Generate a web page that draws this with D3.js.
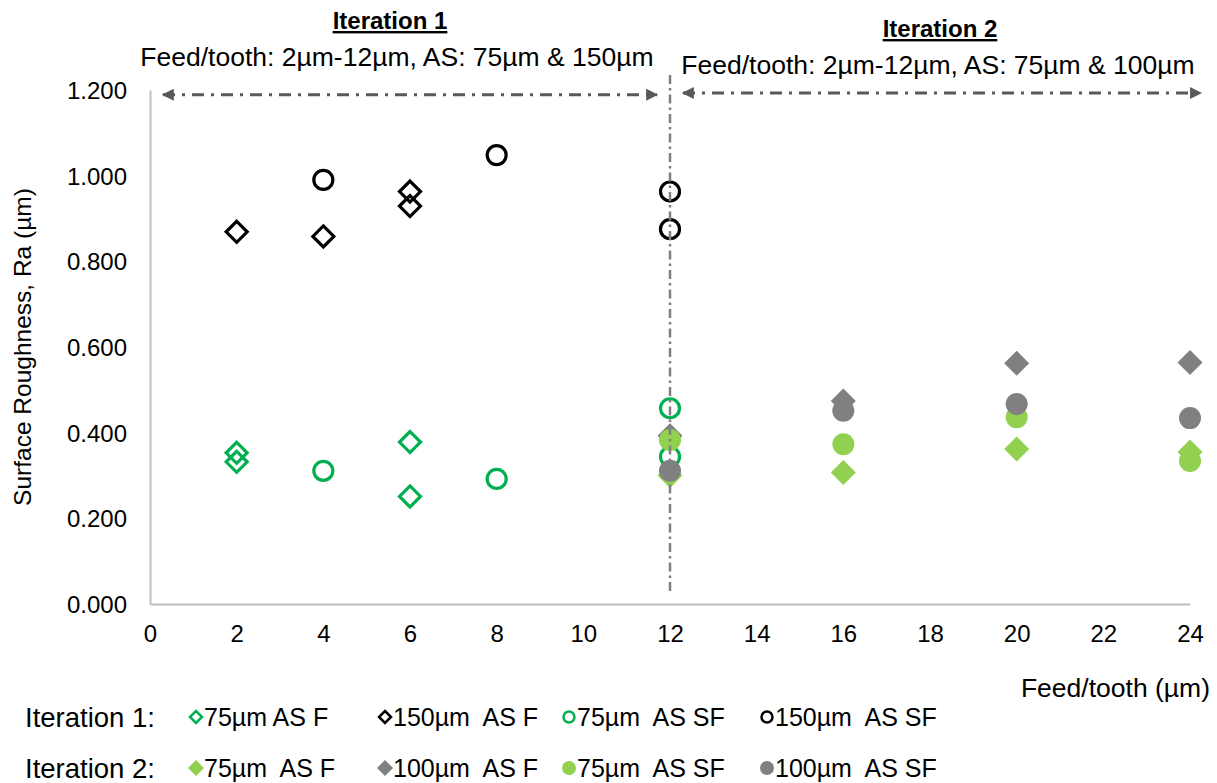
<!DOCTYPE html>
<html>
<head>
<meta charset="utf-8">
<title>Surface Roughness vs Feed/tooth</title>
<script src="https://d3js.org/d3.v7.min.js"></script>
<style>
  body { margin: 0; background: #fff; }
  text { font-family: "Liberation Sans", Arial, sans-serif; white-space: pre; }
</style>
</head>
<body>
<svg width="1217" height="783"></svg>
<script>
// axis ticks
var feedTicks = [0, 2, 4, 6, 8, 10, 12, 14, 16, 18, 20, 22, 24];
var raTicks = [0, 0.2, 0.4, 0.6, 0.8, 1.0, 1.2];

// Iteration 1 (feed/tooth 2-12, AS 75 & 150)
var it1_75F_x = [2, 2, 6, 6];
var it1_75F_y = [0.353, 0.332, 0.378, 0.251];
var it1_150F_x = [2, 4, 6, 6];
var it1_150F_y = [0.869, 0.858, 0.963, 0.929];
var it1_75SF_x = [4, 8, 12, 12];
var it1_75SF_y = [0.311, 0.292, 0.457, 0.344];
var it1_150SF_x = [4, 8, 12, 12];
var it1_150SF_y = [0.990, 1.048, 0.963, 0.875];

// Iteration 2 (AS 75 & 100)
var it2_x = [12, 16, 20, 24];
var it2_75F_y = [0.300, 0.307, 0.362, 0.355];
var it2_100F_y = [0.393, 0.474, 0.562, 0.564];
var it2_75SF_y = [0.383, 0.373, 0.436, 0.334];
var it2_100SF_y = [0.311, 0.451, 0.467, 0.434];

var series = [
  { name: "75\u00b5m AS F",     row: 1, shape: "diamond", fill: "none",    stroke: "#00b050", x: it1_75F_x,   y: it1_75F_y },
  { name: "150\u00b5m  AS F",   row: 1, shape: "diamond", fill: "none",    stroke: "#000000", x: it1_150F_x,  y: it1_150F_y },
  { name: "75\u00b5m  AS SF",   row: 1, shape: "circle",  fill: "none",    stroke: "#00b050", x: it1_75SF_x,  y: it1_75SF_y },
  { name: "150\u00b5m  AS SF",  row: 1, shape: "circle",  fill: "none",    stroke: "#000000", x: it1_150SF_x, y: it1_150SF_y },
  { name: "75\u00b5m  AS F",    row: 2, shape: "diamond", fill: "#92d050", stroke: "none",    x: it2_x, y: it2_75F_y },
  { name: "100\u00b5m  AS F",   row: 2, shape: "diamond", fill: "#808080", stroke: "none",    x: it2_x, y: it2_100F_y },
  { name: "75\u00b5m  AS SF",   row: 2, shape: "circle",  fill: "#92d050", stroke: "none",    x: it2_x, y: it2_75SF_y },
  { name: "100\u00b5m  AS SF",  row: 2, shape: "circle",  fill: "#808080", stroke: "none",    x: it2_x, y: it2_100SF_y }
];

var svg = d3.select("svg");
var x = d3.scaleLinear().domain([0, 24]).range([150, 1190]);
var y = d3.scaleLinear().domain([0, 1.2]).range([604, 90]);

// axes (light grey, no ticks)
var xAxis = svg.append("g").attr("transform", "translate(0,604)")
  .call(d3.axisBottom(x).tickValues(feedTicks).tickSize(0).tickPadding(21).tickFormat(d3.format("d")));
var yAxis = svg.append("g").attr("transform", "translate(150,0)")
  .call(d3.axisLeft(y).tickValues(raTicks).tickSize(0).tickPadding(23).tickFormat(d3.format(".3f")));
[xAxis, yAxis].forEach(function(g) {
  g.select(".domain").attr("stroke", "#bfbfbf").attr("stroke-width", 2);
  g.selectAll("text").attr("font-size", 24).attr("fill", "#000")
    .attr("font-family", "'Liberation Sans', Arial, sans-serif");
});
yAxis.selectAll("text").attr("dy", "0.35em");

svg.append("text").attr("transform", "translate(31," + y(0.6) + ") rotate(-90)")
  .attr("text-anchor", "middle").attr("font-size", 24.5).text("Surface Roughness, Ra (\u00b5m)");
svg.append("text").attr("x", 1210).attr("y", 697).attr("text-anchor", "end")
  .attr("font-size", 26.5).text("Feed/tooth (\u00b5m)");

// markers
function drawMarker(g, s, cx, cy, big) {
  var filled = s.fill !== "none";
  if (s.shape === "circle") {
    g.append("circle").attr("cx", cx).attr("cy", cy)
      .attr("r", big ? (filled ? 11 : 9.5) : (filled ? 7 : 5.5))
      .attr("fill", s.fill).attr("stroke", s.stroke).attr("stroke-width", big ? 3.2 : 2.5);
  } else {
    var h = big ? (filled ? 12.5 : 10.5) : (filled ? 8 : 6);
    g.append("path").attr("d", "M" + cx + "," + (cy - h) + "L" + (cx + h) + "," + cy + "L" + cx + "," + (cy + h) + "L" + (cx - h) + "," + cy + "Z")
      .attr("fill", s.fill).attr("stroke", s.stroke).attr("stroke-width", big ? 3.2 : 2.5)
      .attr("stroke-linejoin", "miter");
  }
}

var marks = svg.append("g");
series.forEach(function(s) {
  s.x.forEach(function(xv, i) {
    drawMarker(marks, s, x(xv), y(s.y[i]), true);
  });
});

// separator line at feed 12
svg.append("line").attr("x1", x(12)).attr("x2", x(12)).attr("y1", y(1.235)).attr("y2", y(0.025))
  .attr("stroke", "#808080").attr("stroke-width", 2.5).attr("stroke-dasharray", "9,4,2.5,4");

// double arrows
var defs = svg.append("defs");
defs.append("marker").attr("id", "ah").attr("viewBox", "0 0 10 10").attr("refX", 9).attr("refY", 5)
  .attr("markerWidth", 5).attr("markerHeight", 4).attr("markerUnits", "strokeWidth").attr("orient", "auto-start-reverse")
  .append("path").attr("d", "M0,0L10,5L0,10Z").attr("fill", "#595959");
function arrow(x1, x2, yy) {
  svg.append("line").attr("x1", x1).attr("x2", x2).attr("y1", yy).attr("y2", yy)
    .attr("stroke", "#595959").attr("stroke-width", 3).attr("stroke-dasharray", "12,7,3,7")
    .attr("marker-start", "url(#ah)").attr("marker-end", "url(#ah)");
}
arrow(x(0.3), x(11.7), y(1.189));
arrow(x(12.3), x(24.25), y(1.193));

// headings
function heading(cx, sx, title, sub, ty, sy) {
  svg.append("text").attr("x", cx).attr("y", ty).attr("text-anchor", "middle")
    .attr("font-size", 24).attr("font-weight", "bold").attr("text-decoration", "underline").text(title);
  svg.append("text").attr("x", sx).attr("y", sy).attr("text-anchor", "middle")
    .attr("font-size", 26.5).text(sub);
}
heading(390, 397, "Iteration 1", "Feed/tooth: 2\u00b5m-12\u00b5m, AS: 75\u00b5m & 150\u00b5m", 29, 66);
heading(940, 938, "Iteration 2", "Feed/tooth: 2\u00b5m-12\u00b5m, AS: 75\u00b5m & 100\u00b5m", 37, 74);

// legend
var legX = [196, 385, 569, 767];
var legY = { 1: 717, 2: 768 };
var leg = svg.append("g");
[1, 2].forEach(function(r) {
  leg.append("text").attr("x", 25).attr("y", legY[r]).attr("dy", "0.35em").attr("font-size", 27.5)
    .text("Iteration " + r + ":");
});
series.forEach(function(s) {
  var i = series.filter(function(t) { return t.row === s.row; }).indexOf(s);
  drawMarker(leg, s, legX[i], legY[s.row], false);
  leg.append("text").attr("x", legX[i] + 8).attr("y", legY[s.row]).attr("dy", "0.35em")
    .attr("font-size", 25).text(s.name);
});
</script>
</body>
</html>
